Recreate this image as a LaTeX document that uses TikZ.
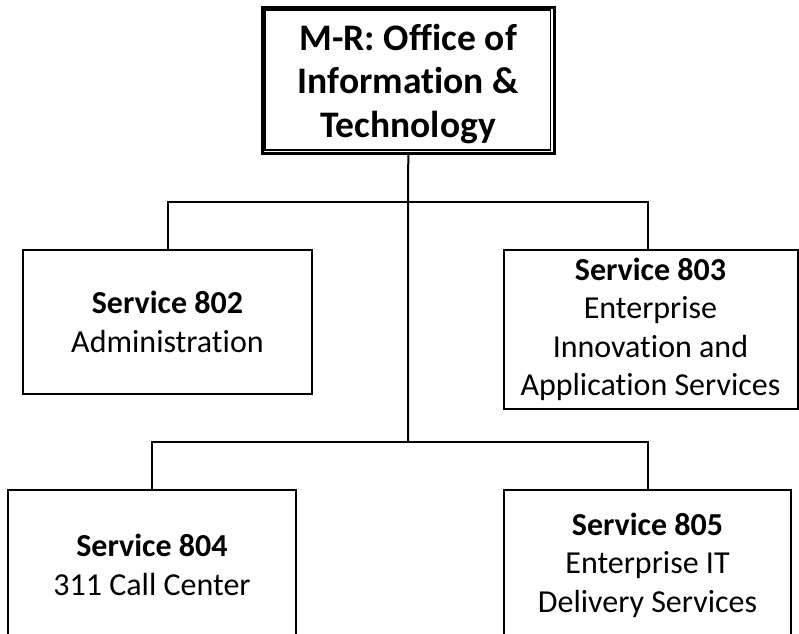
\documentclass[tikz,border=0pt]{standalone}
\usepackage{fontspec}
\setmainfont{Carlito}[Ligatures=NoCommon]
\begin{document}
\begin{tikzpicture}[x=1pt,y=-1pt,
  box/.style={draw, line width=2pt, rectangle, inner sep=0pt, align=center,
    font=\fontsize{32}{38.5}\selectfont},
  conn/.style={line width=2pt}]
\useasboundingbox (0,0) rectangle (799,633);
\clip (0,0) rectangle (799,633);
\fill[white] (0,0) rectangle (799,633);
% top box
\node[draw, line width=3pt, rectangle, inner sep=0pt,
  minimum width=292.5pt, minimum height=146.5pt] (top) at (408.25,80.25) {};
\draw[line width=1.5pt] ([shift={(4.5pt,5pt)}]top.south west) rectangle ([shift={(-5.5pt,-4.5pt)}]top.north east);
\node[align=center, inner sep=0pt, font=\bfseries\fontsize{37.5}{43.5}\selectfont]
  (toptext) at (408.25,84) {M-R: Office of\\Information \&\\Technology};
% boxes
\node[box, minimum width=289pt, minimum height=144pt] (s802) at (167.5,322)
  {\textbf{Service 802}\\Administration};
\node[box, minimum width=294pt, minimum height=159pt] (s803) at (650.5,329.5)
  {\textbf{Service 803}\\Enterprise\\Innovation and\\Application Services};
\node[box, minimum width=288pt, minimum height=150pt] (s804) at (152,565)
  {\textbf{Service 804}\\311 Call Center};
\node[box, minimum width=287pt, minimum height=150pt] (s805) at (647.5,565)
  {\textbf{Service 805}\\Enterprise IT\\Delivery Services};
% connectors
\coordinate (j1) at (408,202);
\coordinate (j2) at (408,442);
\draw[conn] (top.south) -- (j2);
\draw[conn] (j1) -| (s802.north);
\draw[conn] (j1) -| ([xshift=-2.5pt]s803.north);
\draw[conn] (j2) -| (s804.north);
\draw[conn] (j2) -| (s805.north);
\end{tikzpicture}
\end{document}
